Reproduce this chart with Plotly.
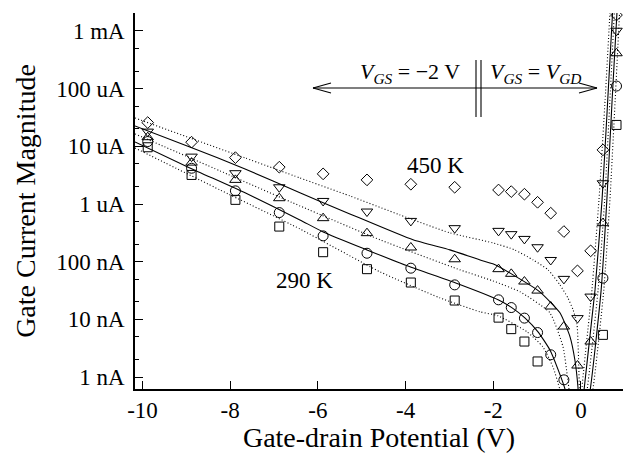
import plotly.graph_objects as go

# ---------------- data ----------------
# measured gate-drain potentials (V)
v_pts = [-9.88, -8.88, -7.88, -6.88, -5.88, -4.88, -3.88, -2.88, -1.88,
         -1.59, -1.29, -0.99, -0.69, -0.39, -0.08, 0.22, 0.50, 0.81]

# measured gate current magnitude (A)
i_450 = [2.58e-5, 1.18e-5, 6.37e-6, 4.35e-6, 3.33e-6, 2.62e-6, 2.20e-6, 1.95e-6, 1.75e-6,
         1.64e-6, 1.48e-6, 1.07e-6, 6.93e-7, 3.33e-7, 6.93e-8, 1.54e-7, 8.67e-6, 1.89e-3]
i_dn = [1.80e-5, 6.63e-6, 3.42e-6, 1.95e-6, 1.13e-6, 7.40e-7, 5.09e-7, 3.81e-7, 3.42e-7,
        3.00e-7, 2.48e-7, 1.78e-7, 1.07e-7, 5.03e-8, 1.05e-8, 2.48e-8, 2.29e-6, 1.01e-3]
i_up = [1.44e-5, 5.22e-6, 2.62e-6, 1.26e-6, 5.68e-7, 3.12e-7, 1.76e-7, 1.10e-7, 7.41e-8,
        6.15e-8, 4.52e-8, 3.15e-8, 1.67e-8, 7.50e-9, 1.58e-9, 4.12e-9, 4.65e-7, 4.11e-4]
i_ci = [1.21e-5, 4.17e-6, 1.69e-6, 7.10e-7, 2.80e-7, 1.40e-7, 7.71e-8, 3.96e-8, 2.18e-8,
        1.60e-8, 1.05e-8, 5.90e-9, 2.43e-9, 8.93e-10, None, None, 5.18e-8, 1.11e-4]
i_290 = [9.64e-6, 3.19e-6, 1.18e-6, 4.06e-7, 1.46e-7, 7.41e-8, 4.35e-8, 2.12e-8, 1.07e-8,
         6.76e-9, 4.12e-9, 1.86e-9, None, None, None, None, 5.38e-9, 2.35e-5]

# model curves (V, A)
fit1_v = [-10.17, -8.92, -7.66, -6.41, -5.27, -4.13, -2.99, -2.01, -1.51, -1.09, -0.75,
          -0.48, -0.30, -0.18, -0.09, -0.01, 0.02, 0.25, 0.41, 0.55, 0.66, 0.71]
fit1_i = [3.10e-5, 1.40e-5, 6.30e-6, 2.83e-6, 1.38e-6, 6.47e-7, 3.16e-7, 2.12e-7, 1.60e-7,
          1.07e-7, 7.21e-8, 3.96e-8, 2.36e-8, 1.46e-8, 8.04e-9, 1.2e-10, 6.0e-10, 3.24e-8,
          1.18e-6, 6.37e-5, 2.05e-3, 1.14e-2]

fit2_v = [-10.17, -8.92, -7.66, -6.41, -5.27, -3.83, -2.99, -2.30, -2.01, -1.55, -0.94,
          -0.48, -0.25, -0.14, -0.07, -0.01, 0.07, 0.32, 0.48, 0.61, 0.72, 0.78]
fit2_i = [2.26e-5, 9.77e-6, 4.06e-6, 1.56e-6, 6.73e-7, 2.39e-7, 1.60e-7, 1.07e-7, 9.16e-8,
          5.90e-8, 3.00e-8, 1.30e-8, 4.98e-9, 1.99e-9, 6.76e-10, 8.0e-11, 6.0e-10, 3.24e-8,
          1.18e-6, 6.37e-5, 2.05e-3, 1.14e-2]

fit3_v = [-10.17, -8.23, -6.41, -4.58, -2.76, -2.01, -1.39, -0.71, -0.41, -0.30, -0.09,
          0.14, 0.39, 0.54, 0.66, 0.76, 0.82]
fit3_i = [1.64e-5, 3.75e-6, 9.27e-7, 2.39e-7, 7.21e-8, 4.65e-8, 3.00e-8, 1.30e-8, 3.34e-9,
          8.93e-10, 5.5e-11, 6.0e-10, 3.24e-8, 1.18e-6, 6.37e-5, 2.05e-3, 1.14e-2]

fit4_v = [-10.17, -8.92, -7.66, -6.41, -5.88, -4.88, -3.90, -2.87, -1.89, -1.57, -1.28,
          -0.98, -0.71, -0.52, -0.36, -0.09, 0.21, 0.46, 0.59, 0.71, 0.82, 0.88]
fit4_i = [1.19e-5, 4.23e-6, 1.56e-6, 5.30e-7, 3.28e-7, 1.60e-7, 8.13e-8, 4.30e-8, 2.18e-8,
          1.58e-8, 1.06e-8, 6.07e-9, 2.96e-9, 1.33e-9, 6.0e-10, 3.7e-11, 6.0e-10, 3.24e-8,
          1.18e-6, 6.37e-5, 2.05e-3, 1.14e-2]

fit5_v = [-10.17, -8.23, -6.41, -4.58, -3.22, -2.30, -1.89, -1.23, -0.87, -0.64, -0.48,
          -0.09, 0.27, 0.52, 0.66, 0.78, 0.88, 0.94]
fit5_i = [9.37e-6, 1.75e-6, 3.70e-7, 6.65e-8, 2.36e-8, 1.35e-8, 1.15e-8, 6.07e-9, 3.34e-9,
          1.50e-9, 6.0e-10, 2.5e-11, 6.0e-10, 3.24e-8, 1.18e-6, 6.37e-5, 2.05e-3, 1.14e-2]

y_tickvals = [1e-9, 1e-8, 1e-7, 1e-6, 1e-5, 1e-4, 1e-3]
y_ticktext = ["1 nA", "10 nA", "100 nA", "1 uA", "10 uA", "100 uA", "1 mA"]
y_minor = [2e-9, 5e-9, 2e-8, 5e-8, 2e-7, 5e-7, 2e-6, 5e-6, 2e-5, 5e-5, 2e-4, 5e-4, 2e-3]
x_tickvals = [-10, -8, -6, -4, -2, 0]
x_ticktext = ["-10", "-8", "-6", "-4", "-2", "0"]

# ---------------- figure ----------------
FONT = "Liberation Serif"
W, H = 623, 453
L, R, T, B = 135, 0, 13, 64

def pp(px, py):
    """pixel position -> paper coordinates"""
    return (px - L) / (W - L - R), (H - B - py) / (H - T - B)

fig = go.Figure()

dot = "1px,2.2px"
for fv, fi, dash in [(fit1_v, fit1_i, dot), (fit2_v, fit2_i, "solid"), (fit3_v, fit3_i, dot),
                     (fit4_v, fit4_i, "solid"), (fit5_v, fit5_i, dot)]:
    fig.add_trace(go.Scatter(x=fv, y=fi, mode="lines",
                             line=dict(color="black", width=1.1, dash=dash,
                                       shape="spline", smoothing=0.5),
                             showlegend=False, hoverinfo="skip"))

for vals, sym, size in [(i_450, "diamond-open", 9), (i_dn, "triangle-down-open", 10),
                        (i_up, "triangle-up-open", 10), (i_ci, "circle-open", 10),
                        (i_290, "square-open", 9)]:
    fig.add_trace(go.Scatter(x=v_pts, y=vals, mode="markers",
                             marker=dict(symbol=sym, size=size, color="black",
                                         line=dict(color="black", width=1)),
                             showlegend=False))

shapes = []
# horizontal double-headed arrow
ax0, ay = pp(313, 88)
ax1, _ = pp(597, 88)
shapes.append(dict(type="line", xref="paper", yref="paper", x0=ax0, y0=ay, x1=ax1, y1=ay,
                   line=dict(color="black", width=1.1)))
for tip, arm in [(313, 331), (597, 579)]:
    for dy in (-5, 5):
        a, b = pp(tip, 88)
        c, d = pp(arm, 88 + dy)
        shapes.append(dict(type="line", xref="paper", yref="paper", x0=a, y0=b, x1=c, y1=d,
                           line=dict(color="black", width=1.1)))
# vertical double bar
for xx in (476, 481):
    a, b = pp(xx, 60)
    c, d = pp(xx, 117)
    shapes.append(dict(type="line", xref="paper", yref="paper", x0=a, y0=b, x1=c, y1=d,
                       line=dict(color="black", width=1.1)))

annotations = []
for text, (px, py), fs in [("<i>V</i><sub><i>GS</i></sub> = \u22122 V", (410, 73), 22),
                           ("<i>V</i><sub><i>GS</i></sub> = <i>V</i><sub><i>GD</i></sub>", (535, 73), 22),
                           ("450 K", (435, 165), 23),
                           ("290 K", (304, 280), 23)]:
    a, b = pp(px, py)
    annotations.append(dict(text=text, xref="paper", yref="paper", x=a, y=b,
                            showarrow=False, xanchor="center", yanchor="middle",
                            font=dict(family=FONT, size=fs, color="black")))

fig.update_layout(
    width=W, height=H,
    margin=dict(l=L, r=R, t=T, b=B, autoexpand=False),
    paper_bgcolor="white", plot_bgcolor="white",
    font=dict(family=FONT, size=23, color="black"),
    shapes=shapes, annotations=annotations,
    xaxis=dict(range=[-10.17, 0.958], tickvals=x_tickvals, ticktext=x_ticktext,
               ticks="inside", ticklen=8,
               tickwidth=1, tickcolor="black", showgrid=False, zeroline=False,
               showline=True, linecolor="black", linewidth=1.5, mirror=False,
               title=dict(text="Gate-drain Potential (V)", font=dict(size=28), standoff=6),
               tickfont=dict(size=23)),
    yaxis=dict(type="log", range=[-9.208, -2.688], tickvals=y_tickvals, ticktext=y_ticktext,
               ticks="inside", ticklen=8, tickwidth=1, tickcolor="black",
               ticklabelstandoff=4,
               minor=dict(tickvals=y_minor, ticks="inside", ticklen=4, tickcolor="black",
                          tickwidth=1, showgrid=False),
               showgrid=False, zeroline=False, showline=True, linecolor="black",
               linewidth=1.5, mirror=False,
               title=dict(text="Gate Current Magnitude", font=dict(size=28), standoff=12),
               tickfont=dict(size=23)),
)

fig.write_html("out.html", config={"displayModeBar": False},
               post_script="document.body.style.margin='0px';")
